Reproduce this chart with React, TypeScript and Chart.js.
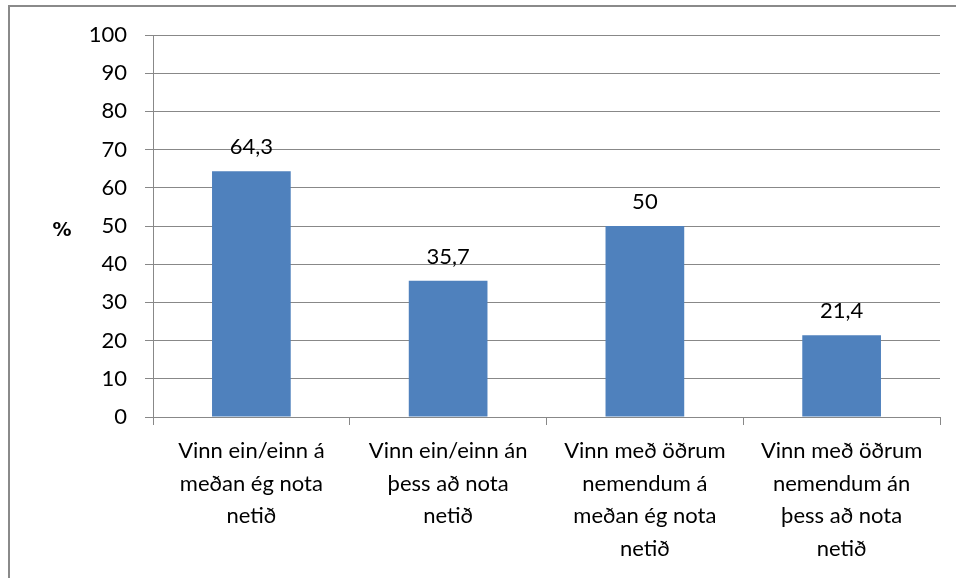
import React, { useEffect, useRef } from "react";
import { Chart, registerables } from "chart.js";

Chart.register(...registerables);

const categories: string[][] = [
  ["Vinn ein/einn á", "meðan ég nota", "netið"],
  ["Vinn ein/einn án", "þess að nota", "netið"],
  ["Vinn með öðrum", "nemendum á", "meðan ég nota", "netið"],
  ["Vinn með öðrum", "nemendum án", "þess að nota", "netið"],
];
const values: number[] = [64.3, 35.7, 50, 21.4];
const valueLabels: string[] = ["64,3", "35,7", "50", "21,4"];
const yAxisLabel = "%";

const FONT = "Lato, 'Open Sans', sans-serif";
const GRID = "#888888";

const framePlugin = {
  id: "frame",
  beforeDraw(chart: any) {
    const ctx = chart.ctx;
    ctx.save();
    ctx.fillStyle = "#ffffff";
    ctx.fillRect(0, 0, chart.width, chart.height);
    ctx.strokeStyle = "#8a8a8a";
    ctx.lineWidth = 2;
    ctx.strokeRect(9, 6, 1200, 1200);
    ctx.restore();
  },
  afterDraw(chart: any) {
    const ctx = chart.ctx;
    ctx.save();
    ctx.font = `bold 19px 'DejaVu Sans', sans-serif`;
    ctx.fillStyle = "#000";
    ctx.textAlign = "center";
    ctx.textBaseline = "middle";
    ctx.fillText(yAxisLabel, 62, 231);
    ctx.font = `22px ${FONT}`;
    const meta = chart.getDatasetMeta(0);
    meta.data.forEach((bar: any, i: number) => {
      ctx.fillText(valueLabels[i], bar.x, bar.y - 24);
    });
    ctx.restore();
  },
};

export default function App() {
  const ref = useRef<HTMLCanvasElement>(null);
  useEffect(() => {
    const chart = new Chart(ref.current!, {
      type: "bar",
      data: {
        labels: categories,
        datasets: [
          {
            data: values,
            backgroundColor: "#4F81BD",
            barPercentage: 0.4,
            categoryPercentage: 1,
          },
        ],
      },
      options: {
        responsive: false,
        animation: false,
        layout: { padding: { left: 0, right: 16, top: 35, bottom: 0 } },
        plugins: { legend: { display: false }, tooltip: { enabled: false } },
        scales: {
          x: {
            offset: true,
            grid: {
              offset: true,
              drawOnChartArea: false,
              drawTicks: true,
              tickLength: 8,
              color: GRID,
            },
            border: { color: GRID },
            ticks: {
              color: "#000",
              font: { family: FONT, size: 22, lineHeight: 1.48 },
              padding: 10,
              maxRotation: 0,
              autoSkip: false,
            },
            afterFit(s: any) {
              s.height = 578 - 417;
            },
          },
          y: {
            min: 0,
            max: 100,
            ticks: {
              stepSize: 10,
              color: "#000",
              font: { family: FONT, size: 22 },
              padding: 18,
            },
            grid: { color: GRID, tickLength: 8 },
            border: { color: GRID },
            afterFit(s: any) {
              s.width = 153;
            },
          },
        },
      },
      plugins: [framePlugin],
    });
    return () => chart.destroy();
  }, []);
  return (
    <div style={{ position: "fixed", left: 0, top: 0, width: 956, height: 578 }}>
      <canvas ref={ref} width={956} height={578} style={{ width: 956, height: 578 }} />
    </div>
  );
}
